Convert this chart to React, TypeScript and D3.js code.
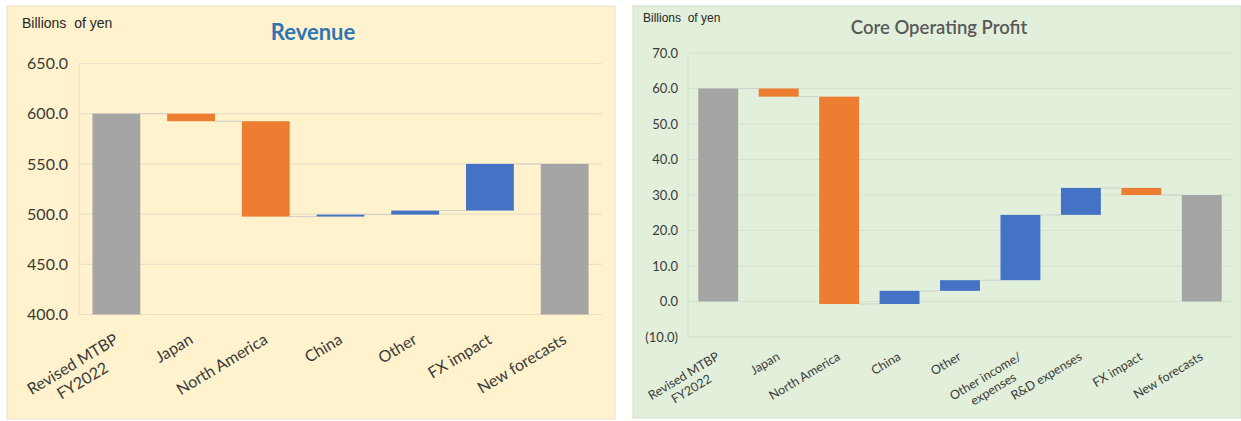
import React, { useEffect, useRef } from 'react'
import * as d3 from 'd3'

// Revenue (billions of yen)
const revCategories = ['Revised MTBP\nFY2022', 'Japan', 'North America', 'China', 'Other', 'FX impact', 'New forecasts']
const revStart = 600
const revSteps = [-7.5, -95, 2, 4, 46.5]
const revEnd = 550
const revTicks = [400, 450, 500, 550, 600, 650]

// Core operating profit (billions of yen)
const copCategories = ['Revised MTBP\nFY2022', 'Japan', 'North America', 'China', 'Other', 'Other income/\nexpenses', 'R&D expenses', 'FX impact', 'New forecasts']
const copStart = 60
const copSteps = [-2.3, -58.4, 3.7, 3.0, 18.4, 7.6, -2.0]
const copEnd = 30
const copTicks = [-10, 0, 10, 20, 30, 40, 50, 60, 70]

const GRAY = '#a5a5a5'
const ORANGE = '#ed7d31'
const BLUE = '#4472c4'
const FONT = 'Lato, "Open Sans", sans-serif'

interface PanelCfg {
  x0: number, x1: number, y0: number, y1: number
  bg: string, border: string, grid: string
  title: string, titleColor: string, titleSize: number, titleWeight: string, titleX: number, titleY: number
  unitX: number, unitY: number, unitSize: number
  plotL: number, plotR: number, yTop: number, yBot: number
  tickSize: number, tickX: number
  catSize: number, catDx: number, catDy: number
  padInner: number
  cats: string[], start: number, steps: number[], end: number, ticks: number[]
}

const panels: PanelCfg[] = [
  {
    x0: 7, x1: 615, y0: 6, y1: 419, bg: '#fff2cc', border: '#e8dfc6', grid: '#e9e0c9',
    title: 'Revenue', titleColor: '#2e75b6', titleSize: 22, titleWeight: 'bold', titleX: 313, titleY: 32,
    unitX: 22, unitY: 23, unitSize: 14,
    plotL: 79, plotR: 602, yTop: 63.5, yBot: 314.5,
    tickSize: 16, tickX: 68,
    catSize: 16, catDx: 3, catDy: 28, padInner: 0.36,
    cats: revCategories, start: revStart, steps: revSteps, end: revEnd, ticks: revTicks,
  },
  {
    x0: 633, x1: 1241, y0: 6, y1: 418, bg: '#e2efda', border: '#d3e0cb', grid: '#d5e2cd',
    title: 'Core Operating Profit', titleColor: '#595959', titleSize: 18.5, titleWeight: '600', titleX: 939, titleY: 28,
    unitX: 643, unitY: 18, unitSize: 12,
    plotL: 688, plotR: 1232, yTop: 53, yBot: 337,
    tickSize: 13, tickX: 678,
    catSize: 12.5, catDx: 2, catDy: 22, padInner: 0.34,
    cats: copCategories, start: copStart, steps: copSteps, end: copEnd, ticks: copTicks,
  },
]

const fmt = (v: number) => (v < 0 ? `(${Math.abs(v).toFixed(1)})` : v.toFixed(1))

const App = () => {
  const svgRef = useRef<SVGSVGElement>(null)

  useEffect(() => {
    const svg = d3.select(svgRef.current)
    svg.selectAll('*').remove()

    panels.forEach((p) => {
      const g = svg.append('g')
      g.append('rect').attr('x', p.x0).attr('y', p.y0).attr('width', p.x1 - p.x0).attr('height', p.y1 - p.y0)
        .attr('fill', p.bg).attr('stroke', p.border)

      const y = d3.scaleLinear().domain([p.ticks[0], p.ticks[p.ticks.length - 1]]).range([p.yBot, p.yTop])
      const x = d3.scaleBand<string>().domain(p.cats).range([p.plotL, p.plotR])
        .paddingInner(p.padInner).paddingOuter(p.padInner / 2)

      // gridlines + plot frame
      g.selectAll('.grid').data(p.ticks).enter().append('line')
        .attr('x1', p.plotL).attr('x2', p.plotR)
        .attr('y1', d => y(d)).attr('y2', d => y(d))
        .attr('stroke', p.grid).attr('stroke-width', 1.2)
      g.append('line').attr('x1', p.plotL).attr('x2', p.plotL).attr('y1', p.yTop).attr('y2', p.yBot)
        .attr('stroke', p.grid).attr('stroke-width', 1.2)

      // tick labels
      g.selectAll('.tick').data(p.ticks).enter().append('text')
        .attr('x', p.tickX).attr('y', d => y(d)).attr('dy', '0.35em')
        .attr('text-anchor', 'end').attr('font-family', FONT).attr('font-size', p.tickSize)
        .attr('fill', '#3a3a3a').text(d => fmt(d))

      // waterfall segments
      const base = p.ticks[0] < 0 ? 0 : p.ticks[0]
      const segs: { cat: string, a: number, b: number, color: string }[] = []
      segs.push({ cat: p.cats[0], a: base, b: p.start, color: GRAY })
      let level = p.start
      p.steps.forEach((s, i) => {
        segs.push({ cat: p.cats[i + 1], a: level, b: level + s, color: s < 0 ? ORANGE : BLUE })
        level += s
      })
      segs.push({ cat: p.cats[p.cats.length - 1], a: base, b: p.end, color: GRAY })

      // connectors
      const levels = [p.start]
      let lv = p.start
      p.steps.forEach(s => { lv += s; levels.push(lv) })
      levels.forEach((l, i) => {
        const c0 = p.cats[i], c1 = p.cats[i + 1]
        g.append('line')
          .attr('x1', (x(c0) || 0) + x.bandwidth()).attr('x2', x(c1) || 0)
          .attr('y1', y(l)).attr('y2', y(l))
          .attr('stroke', '#cfcfcf').attr('stroke-width', 1)
      })

      g.selectAll('.bar').data(segs).enter().append('rect')
        .attr('x', d => x(d.cat) || 0)
        .attr('y', d => y(Math.max(d.a, d.b)))
        .attr('width', x.bandwidth())
        .attr('height', d => Math.abs(y(d.a) - y(d.b)))
        .attr('fill', d => d.color)

      // category labels
      p.cats.forEach((c) => {
        const cx = (x(c) || 0) + x.bandwidth() / 2
        const lines = c.split('\n')
        const t = g.append('text')
          .attr('transform', `translate(${cx + p.catDx},${p.yBot + p.catDy}) rotate(-31)`)
          .attr('font-family', FONT).attr('font-size', p.catSize).attr('fill', '#3a3a3a')
        const spans = lines.map((ln, i) => t.append('tspan').attr('x', 0).attr('y', i * p.catSize * 1.2).text(ln))
        const w = d3.max(spans.map(s => (s.node() as SVGTSpanElement).getComputedTextLength())) || 0
        spans.forEach(s => s.attr('x', -w / 2).attr('text-anchor', 'middle'))
      })

      g.append('text').attr('x', p.unitX).attr('y', p.unitY).attr('dy', '0.35em')
        .attr('font-family', 'Liberation Sans, Arial, sans-serif').attr('font-size', p.unitSize)
        .attr('fill', '#262626').text('Billions  of yen').style('white-space', 'pre')

      g.append('text').attr('x', p.titleX).attr('y', p.titleY).attr('dy', '0.35em')
        .attr('text-anchor', 'middle').attr('font-family', FONT).attr('font-size', p.titleSize)
        .attr('font-weight', p.titleWeight).attr('fill', p.titleColor).text(p.title)
    })
  }, [])

  return (
    <svg ref={svgRef} width={1241} height={421} style={{ position: 'absolute', left: 0, top: 0, background: '#fff' }} />
  )
}

export default App
